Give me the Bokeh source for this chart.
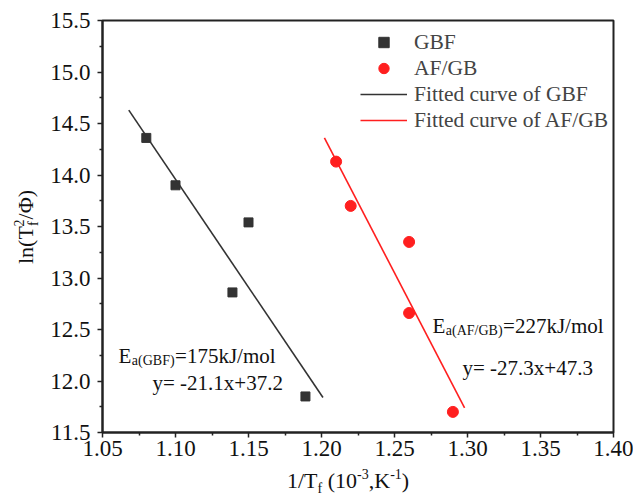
import math
from bokeh.plotting import figure
from bokeh.layouts import row, column
from bokeh.models import Range1d, FixedTicker, PrintfTickFormatter, Legend, LegendItem, Label, Div
from bokeh.embed import file_html
from bokeh.resources import INLINE

# ---- data ----
gbf_x = [1.080, 1.100, 1.139, 1.150, 1.189]
gbf_y = [14.36, 13.90, 12.86, 13.54, 11.85]
afgb_x = [1.210, 1.220, 1.260, 1.260, 1.290]
afgb_y = [14.13, 13.70, 13.35, 12.66, 11.70]
fit_gbf_x = [1.068, 1.201]
fit_gbf_y = [14.63, 11.84]
fit_afgb_x = [1.202, 1.298]
fit_afgb_y = [14.36, 11.74]
x_ticks = [1.05, 1.10, 1.15, 1.20, 1.25, 1.30, 1.35, 1.40]
y_ticks = [11.5, 12.0, 12.5, 13.0, 13.5, 14.0, 14.5, 15.0, 15.5]
legend_labels = ["GBF", "AF/GB", "Fitted curve of GBF", "Fitted curve of AF/GB"]

X0, X1 = 1.05, 1.40
Y0, Y1 = 11.5, 15.5
FONT = "Liberation Serif"
DARK = "#333333"
RED = "#ff1f1f"

LEFT_W = 40                      # width of the column holding the y title
FR_L, FR_R, FR_T, FR_B = 102, 613, 20, 432   # frame in page pixels
FIG_H = 468

p = figure(width=633 - LEFT_W, height=FIG_H, output_backend="svg", toolbar_location=None,
           x_range=Range1d(X0, X1), y_range=Range1d(Y0, Y1),
           min_border_left=FR_L - LEFT_W, min_border_right=633 - FR_R,
           min_border_top=FR_T, min_border_bottom=FIG_H - FR_B)
p.grid.visible = False
p.outline_line_color = "#222222"
p.outline_line_width = 2
p.background_fill_color = "white"
p.border_fill_color = "white"

x_minor = [(a + b) / 2 for a, b in zip(x_ticks[:-1], x_ticks[1:])]
y_minor = [(a + b) / 2 for a, b in zip(y_ticks[:-1], y_ticks[1:])]
p.xaxis.ticker = FixedTicker(ticks=x_ticks, minor_ticks=x_minor)
p.yaxis.ticker = FixedTicker(ticks=y_ticks, minor_ticks=y_minor)
p.xaxis.formatter = PrintfTickFormatter(format="%.2f")
p.yaxis.formatter = PrintfTickFormatter(format="%.1f")
for ax in (p.xaxis, p.yaxis):
    ax.axis_line_width = 2
    ax.axis_line_color = "#222222"
    ax.major_tick_line_color = "#222222"
    ax.minor_tick_line_color = "#222222"
    ax.major_tick_line_width = 1.5
    ax.minor_tick_line_width = 1.5
    ax.major_tick_in = 0
    ax.major_tick_out = 5
    ax.minor_tick_in = 0
    ax.minor_tick_out = 3
    ax.major_label_text_font = FONT
    ax.major_label_text_font_size = "23px"
    ax.major_label_text_color = "#111111"
p.yaxis.major_label_standoff = 7
p.xaxis.major_label_standoff = 3

r_gbf = p.scatter(gbf_x, gbf_y, marker="square", size=9, color=DARK)
r_afgb = p.scatter(afgb_x, afgb_y, marker="circle", size=11, color=RED)
r_fg = p.line(fit_gbf_x, fit_gbf_y, line_color=DARK, line_width=1.6)
r_fa = p.line(fit_afgb_x, fit_afgb_y, line_color=RED, line_width=1.6)

legend = Legend(items=[LegendItem(label=legend_labels[0], renderers=[r_gbf]),
                       LegendItem(label=legend_labels[1], renderers=[r_afgb]),
                       LegendItem(label=legend_labels[2], renderers=[r_fg]),
                       LegendItem(label=legend_labels[3], renderers=[r_fa])],
                location=(258, 299), glyph_width=47, glyph_height=26, label_height=26,
                spacing=0, padding=5, margin=0, label_standoff=7,
                border_line_color=None, background_fill_alpha=0,
                label_text_font=FONT, label_text_font_size="21.5px")
p.add_layout(legend)

# ---- rich text helpers (Times-metric widths) for in-frame annotations ----
W = {" ": 250, "(": 333, ")": 333, "+": 564, ",": 250, "-": 333, ".": 250, "/": 278,
     "=": 564, "A": 722, "B": 667, "E": 611, "F": 556, "G": 722, "J": 389, "K": 722,
     "T": 611, "a": 444, "f": 333, "k": 500, "l": 278, "m": 778, "n": 500, "o": 500,
     "x": 500, "y": 500}


def tw(s, size):
    return sum(W.get(c, 500) for c in s) / 1000.0 * size


def to_data(sx, sy):
    x = X0 + (sx - FR_L) / (FR_R - FR_L) * (X1 - X0)
    y = Y1 - (sy - FR_T) / (FR_B - FR_T) * (Y1 - Y0)
    return x, y


def rich(pieces, sx, sy, color="#111111"):
    pos = 0.0
    for text, size, shift in pieces:
        x, y = to_data(sx + pos, sy + shift)
        p.add_layout(Label(x=x, y=y, x_units="data", y_units="data", text=text,
                           text_font=FONT, text_font_size=f"{size}px", text_color=color,
                           text_align="left", text_baseline="alphabetic"))
        pos += tw(text, size) + 0.5


rich([("E", 21, 0), ("a(GBF)", 14, 5), ("=175kJ/mol", 21, 0)], 118, 355)
rich([("y= -21.1x+37.2", 21, 0)], 152, 382)
rich([("E", 21, 0), ("a(AF/GB)", 14, 5), ("=227kJ/mol", 21, 0)], 432, 325)
rich([("y= -27.3x+47.3", 21, 0)], 462, 367)

# ---- axis titles as HTML text (sub/superscripts) ----
base = "font-family:'Liberation Serif'; font-size:22px; line-height:22px; color:#111; white-space:nowrap;"
sub = "font-size:14px; position:relative; top:5px;"
sup = "font-size:14px; position:relative; top:-9px;"

x_title = (f'<div style="{base} padding-left:{287 - LEFT_W}px; padding-top:2px;">'
           f'1/T<span style="{sub}">f</span> (10<span style="{sup}">-3</span>,K'
           f'<span style="{sup}">-1</span>)</div>')
y_title = (f'<div style="{base} margin-left:15px; margin-top:264px; transform:rotate(-90deg); '
           f'transform-origin:left top; width:120px;">'
           f'ln(T<span style="{sub}">f</span><span style="{sup} margin-left:-5px;">2</span>/Φ)</div>')

xdiv = Div(text=x_title, width=633 - LEFT_W, height=502 - FIG_H, margin=0)
ydiv = Div(text=y_title, width=LEFT_W, height=502, margin=0)

layout = row(ydiv, column(p, xdiv, spacing=0), spacing=0)

open("out.html", "w").write(file_html(layout, INLINE))
